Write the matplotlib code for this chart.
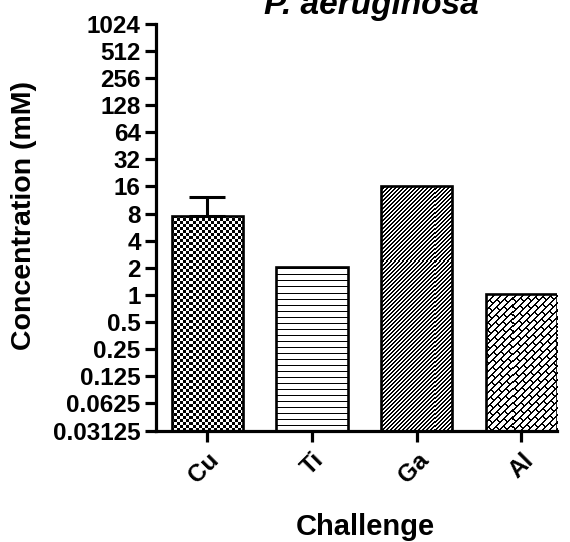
import numpy as np
import matplotlib.pyplot as plt
from matplotlib.ticker import FixedLocator, NullLocator

plt.rcParams["font.family"] = ["Liberation Sans", "DejaVu Sans"]
plt.rcParams["font.weight"] = "bold"

# data
challenges = ["Cu", "Ti", "Ga", "Al"]
conc_mean = [7.5, 2.0, 16.0, 1.0]
conc_err = [4.8, 0.0, 0.0, 0.0]
ytick_labels = ["0.03125", "0.0625", "0.125", "0.25", "0.5", "1", "2", "4",
                "8", "16", "32", "64", "128", "256", "512", "1024"]
ytick_values = [float(s) for s in ytick_labels]

fig = plt.figure(figsize=(5.7, 5.42), dpi=100)
ax = fig.add_axes([156 / 570, 111.5 / 542, 401 / 570, 406.8 / 542])

x = np.arange(len(challenges))
width = 0.68
ax.set_yscale("log", base=2)
ax.set_ylim(ytick_values[0], ytick_values[-1])
ax.set_xlim(-0.49, 3.34)

# pixel patterns for the bar fills (drawn in axes space so they stay crisp on the log axis)
w_px = int(round(fig.get_figwidth() * fig.dpi * ax.get_position().width))
h_px = int(round(fig.get_figheight() * fig.dpi * ax.get_position().height))
ii, jj = np.mgrid[0:h_px, 0:w_px]

checker = ((ii // 3 + jj // 3) % 2 == 0)
hlines = (ii % 6 == 0)
diag = ((ii + jj) % 4 < 2)
row = (ii + jj) // 7
brick = ((ii + jj) % 7 < 2) | (((jj - ii) + 8 * (row % 2)) % 16 < 2)
patterns = [checker, hlines, diag, brick]

bars = ax.bar(x, conc_mean, width, bottom=ytick_values[0], color="white",
              edgecolor="none", zorder=1)
for bar, pat in zip(bars, patterns):
    img = np.where(pat, 0.0, 1.0)
    im = ax.imshow(img, cmap="gray", vmin=0, vmax=1, extent=[0, 1, 0, 1],
                   transform=ax.transAxes, interpolation="nearest",
                   aspect="auto", zorder=2)
    im.set_clip_path(bar)

ax.bar(x, conc_mean, width, bottom=ytick_values[0], fill=False,
       edgecolor="black", linewidth=1.9, zorder=3)

# upper error bar only
for xi, m, e in zip(x, conc_mean, conc_err):
    if e > 0:
        ax.errorbar(xi, m, yerr=[[0], [e]], fmt="none", ecolor="black",
                    elinewidth=2.2, capsize=13, capthick=2.2, zorder=3)

ax.spines["top"].set_visible(False)
ax.spines["right"].set_visible(False)
ax.spines["left"].set_linewidth(2.3)
ax.spines["bottom"].set_linewidth(2.3)
ax.spines["left"].set_capstyle("projecting")
ax.spines["bottom"].set_capstyle("projecting")

ax.yaxis.set_major_locator(FixedLocator(ytick_values))
ax.yaxis.set_minor_locator(NullLocator())
ax.set_yticklabels(ytick_labels)
ax.tick_params(axis="y", length=8, width=2.3, pad=3, labelsize=17.5)

ax.set_xticks(x)
ax.set_xticklabels(challenges, rotation=45, ha="right", rotation_mode="anchor")
ax.tick_params(axis="x", length=8, width=2.3, pad=5, labelsize=17.5)

fig.text(371 / 570, 1 - 14 / 542, "P. aeruginosa", ha="center", va="baseline",
         fontsize=24, fontweight="bold", fontstyle="italic")
fig.text(24 / 570, 1 - 215 / 542, "Concentration (mM)", rotation=90,
         ha="center", va="center", fontsize=20.5, fontweight="bold")
fig.text(365 / 570, 1 - 535 / 542, "Challenge", ha="center", va="baseline",
         fontsize=21, fontweight="bold")

fig.savefig("out.png", dpi=100)
